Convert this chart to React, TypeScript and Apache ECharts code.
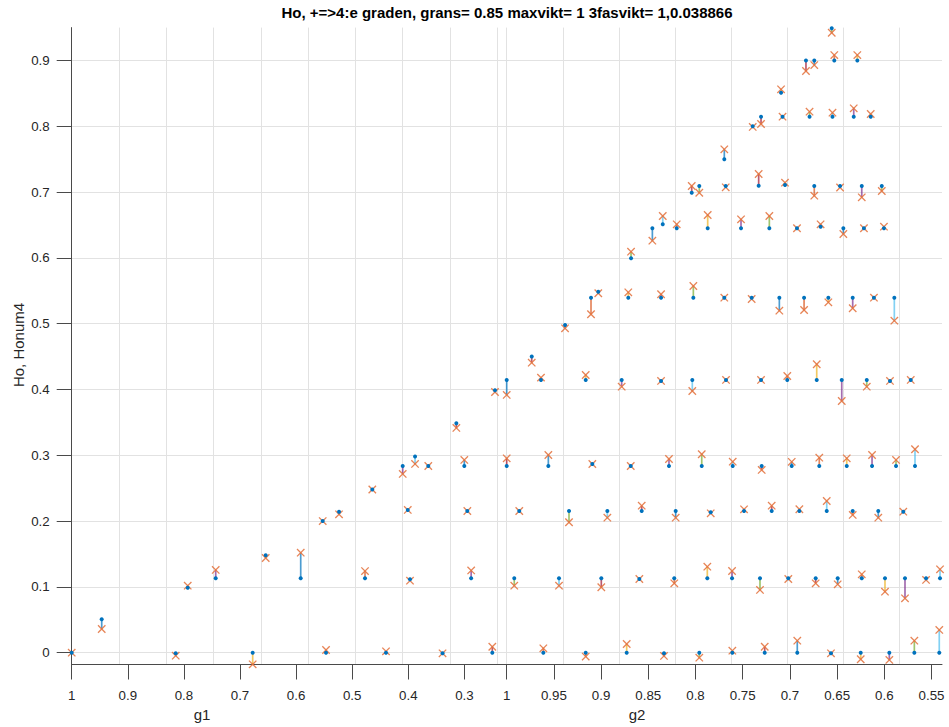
import React, { useEffect, useRef } from "react";
import * as echarts from "echarts";

// ---------- data ----------
const TITLE = "Ho, +=>4:e graden, grans= 0.85 maxvikt= 1 3fasvikt= 1,0.038866";
const Y_NAME = "Ho, Honum4";

const g1Ticks = [1, 0.9, 0.8, 0.7, 0.6, 0.5, 0.4, 0.3];
const g2Ticks = [1, 0.95, 0.9, 0.85, 0.8, 0.75, 0.7, 0.65, 0.6, 0.55];
const yTicks = [0, 0.1, 0.2, 0.3, 0.4, 0.5, 0.6, 0.7, 0.8, 0.9];
const g2GridLines = [1, 0.9406, 0.8812, 0.8218, 0.7624, 0.703, 0.6436, 0.5842];

// g1 part
const g1Pos = [1, 0.9465, 0.8146, 0.7932, 0.7433, 0.6774, 0.6542, 0.5918, 0.5467, 0.5526, 0.5235, 0.4772, 0.4642,
  0.4398, 0.41, 0.401, 0.397, 0.388, 0.3644, 0.339, 0.3144, 0.3002, 0.2948, 0.288, 0.2503, 0.2455];
const g1Ho = [0, 0.0507, -0.001, 0.0988, 0.113, 0, 0.148, 0.113, 0, 0.2, 0.2143, 0.113, 0.248,
  0, 0.2837, 0.2169, 0.1115, 0.298, 0.2837, -0.001, 0.3486, 0.2837, 0.2153, 0.113, 0, 0.3988];
const g1Honum4 = [0, 0.036, -0.0046, 0.1018, 0.1257, -0.0177, 0.1439, 0.152, 0.004, 0.2, 0.2103, 0.124, 0.248,
  0.002, 0.2716, 0.2169, 0.1094, 0.2868, 0.2837, -0.001, 0.3415, 0.2929, 0.2153, 0.125, 0.009, 0.3962];
const g1Stem = [0, 0, 1, 2, 3, 2, 4, 0, 5, 6, 0, 1, 2, 2, 3, 4, 5, 5, 6, 0, 6, 0, 1, 3, 6, 0];

// g2 part (rows by level)
const g2Pos = [
  0.9612, 0.9163, 0.8729, 0.8334, 0.796, 0.761, 0.7267, 0.6922, 0.6565, 0.625, 0.5947, 0.5682, 0.5418,
  0.992, 0.9446, 0.8998, 0.8595, 0.8225, 0.7875, 0.7613, 0.7317, 0.7017, 0.6727, 0.6494, 0.6239, 0.5993, 0.5781, 0.5558, 0.541,
  0.9867, 0.934, 0.8934, 0.857, 0.821, 0.7839, 0.7486, 0.7193, 0.69, 0.661, 0.6335, 0.6064, 0.5799,
  1.0, 0.9559, 0.9093, 0.8686, 0.8281, 0.7934, 0.7606, 0.7299, 0.6981, 0.6689, 0.6398, 0.613, 0.5876, 0.5675,
  1.0, 0.9735, 0.9637, 0.9163, 0.8782, 0.8365, 0.8034, 0.7677, 0.7306, 0.7028, 0.6716, 0.6451, 0.6186, 0.594, 0.572,
  0.9382, 0.9107, 0.903, 0.8712, 0.8365, 0.8023, 0.7695, 0.7405, 0.7112, 0.685, 0.6593, 0.6335, 0.611, 0.5894,
  0.8683, 0.8457, 0.8347, 0.8199, 0.7871, 0.7518, 0.7218, 0.6925, 0.6675, 0.6434, 0.6216, 0.6004,
  0.804, 0.796, 0.768, 0.7331, 0.7052, 0.6742, 0.6469, 0.6239, 0.6027,
  0.7695, 0.7394, 0.7306, 0.7094, 0.7078, 0.6792, 0.6549, 0.6324, 0.6144, 0.683, 0.6742, 0.653, 0.6286, 0.6557,
];
const g2Ho = [
  0, 0, 0, -0.001, 0, 0, 0, 0, -0.001, 0, 0, 0, 0,
  0.113, 0.113, 0.113, 0.112, 0.113, 0.113, 0.113, 0.113, 0.113, 0.113, 0.113, 0.113, 0.113, 0.113, 0.113, 0.113,
  0.2153, 0.2153, 0.2153, 0.2153, 0.2153, 0.2133, 0.2153, 0.2153, 0.2153, 0.2153, 0.2153, 0.2153, 0.2143,
  0.2837, 0.2837, 0.2867, 0.2837, 0.2837, 0.2837, 0.2837, 0.2837, 0.2837, 0.2837, 0.2837, 0.2837, 0.2837, 0.2837,
  0.4145, 0.45, 0.4145, 0.4145, 0.4145, 0.413, 0.4145, 0.4145, 0.4145, 0.4145, 0.4145, 0.4145, 0.4145, 0.413, 0.4145,
  0.498, 0.5395, 0.5486, 0.5395, 0.5395, 0.5395, 0.5395, 0.5395, 0.5395, 0.5395, 0.5395, 0.5395, 0.5395, 0.5395,
  0.5994, 0.645, 0.651, 0.645, 0.645, 0.645, 0.645, 0.645, 0.6474, 0.645, 0.645, 0.645,
  0.699, 0.7093, 0.7093, 0.7097, 0.7108, 0.7093, 0.7093, 0.7093, 0.7093,
  0.7498, 0.8, 0.8146, 0.851, 0.8146, 0.8146, 0.8146, 0.8146, 0.8146, 0.9, 0.9, 0.9, 0.9, 0.949,
];
const g2Honum4 = [
  0.0066, -0.006, 0.0132, -0.005, -0.0076, 0.003, 0.009, 0.0182, -0.001, -0.01, -0.011, 0.0182, 0.0345,
  0.1018, 0.1018, 0.0994, 0.112, 0.1054, 0.1307, 0.1241, 0.0953, 0.112, 0.1054, 0.1039, 0.119, 0.0927, 0.0826, 0.1105, 0.1267,
  0.2153, 0.1982, 0.2052, 0.2234, 0.2052, 0.2118, 0.2179, 0.2234, 0.218, 0.2305, 0.2093, 0.2052, 0.2143,
  0.2954, 0.3004, 0.2867, 0.2837, 0.2943, 0.3015, 0.2903, 0.2777, 0.29, 0.2964, 0.2954, 0.3004, 0.2929, 0.3091,
  0.3917, 0.4407, 0.418, 0.422, 0.4043, 0.413, 0.3977, 0.4145, 0.4145, 0.4205, 0.4383, 0.3825, 0.4043, 0.413, 0.4145,
  0.493, 0.5143, 0.5462, 0.5477, 0.5447, 0.5573, 0.5395, 0.5375, 0.5198, 0.5208, 0.5325, 0.5234, 0.5395, 0.5046,
  0.6094, 0.6262, 0.6637, 0.651, 0.6652, 0.6586, 0.6637, 0.645, 0.651, 0.6363, 0.645, 0.6474,
  0.7093, 0.699, 0.7073, 0.7275, 0.7143, 0.6945, 0.707, 0.6921, 0.7017,
  0.765, 0.799, 0.8035, 0.8562, 0.8146, 0.8222, 0.8207, 0.8273, 0.8187, 0.884, 0.8931, 0.9083, 0.9083, 0.9422,
];
const g2Stem = [
  1, 1, 2, 3, 4, 5, 6, 0, 1, 2, 3, 4, 5,
  4, 5, 6, 0, 1, 2, 3, 4, 5, 6, 0, 1, 2, 3, 4, 5,
  3, 4, 5, 6, 0, 1, 2, 6, 4, 5, 1, 0, 2,
  6, 0, 1, 2, 3, 4, 5, 6, 0, 1, 2, 3, 4, 5,
  0, 6, 1, 2, 3, 4, 5, 6, 0, 1, 2, 3, 4, 5, 6,
  0, 1, 0, 2, 3, 4, 5, 6, 0, 1, 2, 3, 4, 5,
  4, 0, 5, 1, 2, 3, 4, 5, 6, 0, 1, 2,
  6, 4, 0, 6, 1, 1, 2, 3, 4,
  0, 1, 6, 2, 3, 4, 5, 3, 4, 6, 0, 1, 2, 4,
];

// ---------- styles ----------
const STEM_COLORS = ["#0072BD", "#D95319", "#EDB120", "#7E2F8E", "#77AC30", "#4DBEEE", "#A2142F"];
const DOT = "#0072BD";
const CROSS = "#E4733F";
const FONT = '"Liberation Sans", Arial, Helvetica, sans-serif';
const AX = "#262626";
const AXLINE = "#4a4a4a";
const GRIDC = "#e2e2e2";

const Y_MIN = -0.018;
const Y_MAX = 0.95;
const G1_MIN = 0.2414;
const G2_MIN = 0.5389;
const G2_MAX = 1.00996;

const fmt = (v: number) => String(+(+v).toFixed(3));

const renderMark = (_params: any, api: any) => {
  const g = api.value(0);
  const a = api.coord([g, api.value(1)]);
  const b = api.coord([g, api.value(2)]);
  const color = STEM_COLORS[api.value(3)];
  const s = 3.7;
  return {
    type: "group",
    children: [
      { type: "line", shape: { x1: a[0], y1: a[1], x2: b[0], y2: b[1] }, style: { stroke: color, lineWidth: 1.7, opacity: 0.7 } },
      { type: "line", shape: { x1: b[0] - s, y1: b[1] - s, x2: b[0] + s, y2: b[1] + s }, style: { stroke: CROSS, lineWidth: 1.3, opacity: 0.88 } },
      { type: "line", shape: { x1: b[0] - s, y1: b[1] + s, x2: b[0] + s, y2: b[1] - s }, style: { stroke: CROSS, lineWidth: 1.3, opacity: 0.88 } },
      { type: "circle", shape: { cx: a[0], cy: a[1], r: 2 }, style: { fill: DOT } },
    ],
  };
};

const buildData = (pos: number[], ho: number[], hn: number[], stem: number[]) =>
  pos.map((p, i) => [p, ho[i], hn[i], stem[i]]);

const mainX = (gridIndex: number, min: number, max: number, ticks: number[]) => ({
  gridIndex,
  type: "value",
  inverse: true,
  min,
  max,
  position: "bottom",
  axisLine: { show: true, onZero: false, lineStyle: { color: AXLINE, width: 1 } },
  axisTick: { show: true, inside: false, length: 15, customValues: ticks, lineStyle: { color: AXLINE, width: 1 } },
  axisLabel: { customValues: ticks, margin: 24, color: AX, fontSize: 13.3, fontFamily: FONT, formatter: fmt },
  splitLine: { show: false },
});

export default function App() {
  const ref = useRef<HTMLDivElement>(null);
  useEffect(() => {
    if (!ref.current) return;
    const chart = echarts.init(ref.current, undefined, { renderer: "svg" });
    const gridTop = 27.6;
    const gridH = 636.9;
    chart.setOption({
      animation: false,
      backgroundColor: "#ffffff",
      grid: [
        { left: 71.7, top: gridTop, width: 425.6, height: gridH },
        { left: 497.3, top: gridTop, width: 444.7, height: gridH },
      ],
      xAxis: [
        mainX(0, G1_MIN, 1, g1Ticks),
        {
          gridIndex: 0, type: "value", position: "top", min: 0, max: 9, interval: 1,
          axisLine: { show: false, onZero: false }, axisTick: { show: false }, axisLabel: { show: false },
          splitLine: { show: true, lineStyle: { color: GRIDC, width: 1 } },
        },
        mainX(1, G2_MIN, G2_MAX, g2Ticks),
        {
          gridIndex: 1, type: "value", position: "top", inverse: true, min: G2_MIN, max: G2_MAX,
          axisLine: { show: false, onZero: false }, axisTick: { show: false, customValues: g2GridLines },
          axisLabel: { show: false },
          splitLine: { show: true, lineStyle: { color: GRIDC, width: 1 } },
        },
      ],
      yAxis: [
        {
          gridIndex: 0, type: "value", min: Y_MIN, max: Y_MAX,
          axisLine: { show: true, onZero: false, lineStyle: { color: AXLINE, width: 1 } },
          axisTick: { show: true, inside: false, length: 15, customValues: yTicks, lineStyle: { color: AXLINE, width: 1 } },
          axisLabel: { customValues: yTicks, margin: 22, color: AX, fontSize: 13.3, fontFamily: FONT, formatter: fmt },
          splitLine: { show: true, lineStyle: { color: GRIDC, width: 1 } },
        },
        {
          gridIndex: 1, type: "value", min: Y_MIN, max: Y_MAX,
          axisLine: { show: false, onZero: false }, axisTick: { show: false, customValues: yTicks },
          axisLabel: { show: false },
          splitLine: { show: true, lineStyle: { color: GRIDC, width: 1 } },
        },
      ],
      series: [
        {
          type: "custom", name: "g1", xAxisIndex: 0, yAxisIndex: 0,
          renderItem: renderMark, encode: { x: 0, y: [1, 2] },
          data: buildData(g1Pos, g1Ho, g1Honum4, g1Stem),
        },
        {
          type: "custom", name: "g2", xAxisIndex: 2, yAxisIndex: 1,
          renderItem: renderMark, encode: { x: 0, y: [1, 2] },
          data: buildData(g2Pos, g2Ho, g2Honum4, g2Stem),
        },
      ],
      graphic: [
        {
          type: "text", x: 507, y: 12,
          style: { text: TITLE, fill: "#000000", font: `bold 15px ${FONT}`, textAlign: "center", textVerticalAlign: "middle" },
        },
        {
          type: "text", x: 18.5, y: 345, rotation: Math.PI / 2,
          style: { text: Y_NAME, fill: AX, font: `15px ${FONT}`, textAlign: "center", textVerticalAlign: "middle" },
        },
        {
          type: "text", x: 202, y: 714,
          style: { text: "g1", fill: AX, font: `15px ${FONT}`, textAlign: "center", textVerticalAlign: "middle" },
        },
        {
          type: "text", x: 637, y: 714,
          style: { text: "g2", fill: AX, font: `15px ${FONT}`, textAlign: "center", textVerticalAlign: "middle" },
        },
      ],
    });
    return () => chart.dispose();
  }, []);
  return (
    <div
      ref={ref}
      style={{ position: "fixed", left: 0, top: 0, width: 949, height: 727, background: "#fff" }}
    />
  );
}
